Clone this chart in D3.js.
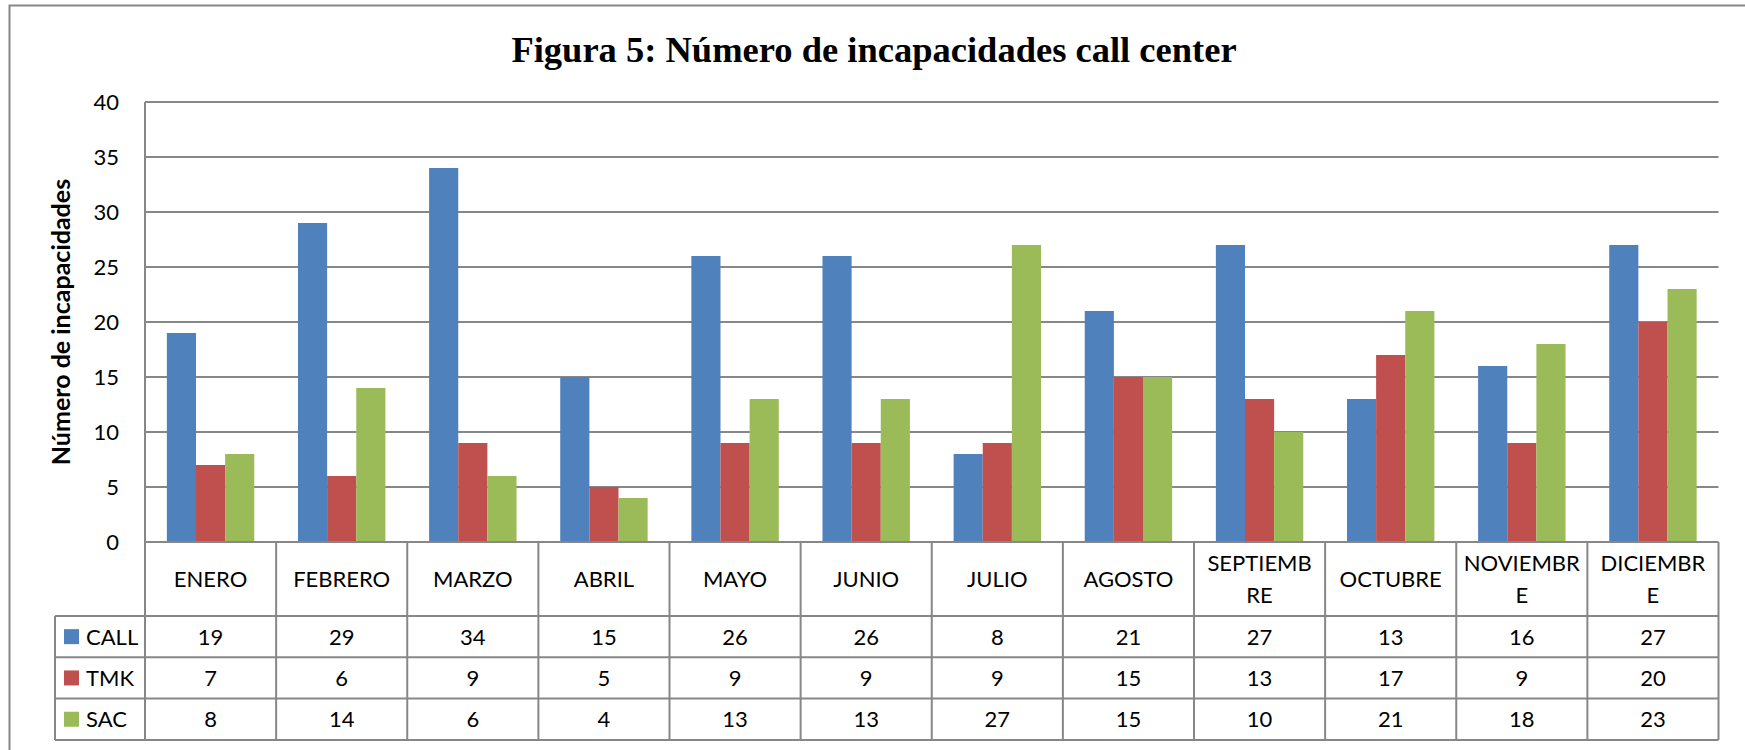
<!DOCTYPE html>
<html>
<head>
<meta charset="utf-8">
<script src="https://cdn.jsdelivr.net/npm/d3@7"></script>
<style>
  html, body { margin: 0; padding: 0; background: #fff; }
  #chart { width: 1745px; height: 750px; }
</style>
</head>
<body>
<div id="chart"></div>
<script>
// data
const months = ["ENERO", "FEBRERO", "MARZO", "ABRIL", "MAYO", "JUNIO", "JULIO",
  "AGOSTO", "SEPTIEMBRE", "OCTUBRE", "NOVIEMBRE", "DICIEMBRE"];
const monthLabels = [["ENERO"], ["FEBRERO"], ["MARZO"], ["ABRIL"], ["MAYO"], ["JUNIO"],
  ["JULIO"], ["AGOSTO"], ["SEPTIEMB", "RE"], ["OCTUBRE"], ["NOVIEMBR", "E"], ["DICIEMBR", "E"]];
const seriesNames = ["CALL", "TMK", "SAC"];
const callValues = [19, 29, 34, 15, 26, 26, 8, 21, 27, 13, 16, 27];
const tmkValues = [7, 6, 9, 5, 9, 9, 9, 15, 13, 17, 9, 20];
const sacValues = [8, 14, 6, 4, 13, 13, 27, 15, 10, 21, 18, 23];
const yTicks = [0, 5, 10, 15, 20, 25, 30, 35, 40];
const seriesColors = ["#4F81BD", "#C0504D", "#9BBB59"];

const title = "Figura 5: Número de incapacidades call center";
const yTitle = "Número de incapacidades";

const settings = {
  width: 1745,
  height: 750,
  margin: { top: 102, right: 26.5, left: 145 },
  plotBottom: 542,
  headerHeight: 74,
  rowHeight: 41.3,
  legendLeft: 55,
  lineColor: "#878787",
  font: "Lato, 'Open Sans', sans-serif",
  fontSize: "22px"
};

const values = [callValues, tmkValues, sacValues];
const rows = seriesNames.map((name, s) => ({ name, color: seriesColors[s], values: values[s] }));

const svg = d3.select("#chart")
  .append("svg")
  .attr("width", settings.width)
  .attr("height", settings.height);

// outer chart border (right/bottom fall outside the picture)
svg.append("rect")
  .attr("x", 9.5)
  .attr("y", 5.5)
  .attr("width", settings.width + 20)
  .attr("height", settings.height + 20)
  .attr("fill", "none")
  .attr("stroke", settings.lineColor)
  .attr("stroke-width", 2);

const left = settings.margin.left;
const right = settings.width - settings.margin.right;

const xScale = d3.scaleBand()
  .domain(months)
  .range([left, right])
  .padding(0);

// gap width 150% -> bars take the middle 2/3 of each category
const bw = xScale.bandwidth();
const xInner = d3.scaleBand()
  .domain(seriesNames)
  .range([bw / 6, bw * 5 / 6])
  .padding(0);

const yScale = d3.scaleLinear()
  .domain([0, 40])
  .range([settings.plotBottom, settings.margin.top]);

// gridlines
svg.append("g")
  .selectAll("line")
  .data(yTicks.filter(t => t > 0))
  .enter()
  .append("line")
  .attr("x1", left)
  .attr("x2", right)
  .attr("y1", d => yScale(d))
  .attr("y2", d => yScale(d))
  .attr("stroke", settings.lineColor)
  .attr("stroke-width", 2);

// bars
svg.append("g")
  .selectAll("g")
  .data(rows)
  .enter()
  .append("g")
  .attr("fill", d => d.color)
  .selectAll("rect")
  .data(d => d.values.map((v, i) => ({ v, month: months[i], name: d.name })))
  .enter()
  .append("rect")
  .attr("x", d => xScale(d.month) + xInner(d.name))
  .attr("width", xInner.bandwidth())
  .attr("y", d => yScale(d.v))
  .attr("height", d => yScale(0) - yScale(d.v));

// Y axis labels
const yAxis = svg.append("g")
  .attr("transform", `translate(${left},0)`)
  .call(d3.axisLeft(yScale).tickValues(yTicks).tickSize(0).tickPadding(26));
yAxis.select(".domain").remove();
yAxis.selectAll("text")
  .attr("font-family", settings.font)
  .attr("font-size", settings.fontSize)
  .attr("fill", "#000");

// data table
const tableTop = settings.plotBottom;
const headerBottom = tableTop + settings.headerHeight;
const tableBottom = headerBottom + settings.rowHeight * rows.length;
const table = svg.append("g")
  .attr("stroke", settings.lineColor)
  .attr("stroke-width", 2);

// vertical lines: axis line plus every column boundary
table.append("line")
  .attr("x1", left).attr("x2", left)
  .attr("y1", settings.margin.top).attr("y2", tableBottom);
table.selectAll(".col")
  .data(months)
  .enter()
  .append("line")
  .attr("x1", d => xScale(d) + bw)
  .attr("x2", d => xScale(d) + bw)
  .attr("y1", tableTop)
  .attr("y2", tableBottom);
table.append("line")
  .attr("x1", settings.legendLeft).attr("x2", settings.legendLeft)
  .attr("y1", headerBottom).attr("y2", tableBottom);

// horizontal lines
table.append("line")
  .attr("x1", left).attr("x2", right)
  .attr("y1", tableTop).attr("y2", tableTop);
table.selectAll(".row")
  .data(d3.range(rows.length + 1))
  .enter()
  .append("line")
  .attr("x1", settings.legendLeft)
  .attr("x2", right)
  .attr("y1", d => headerBottom + d * settings.rowHeight)
  .attr("y2", d => headerBottom + d * settings.rowHeight);

// month header labels
const headerMid = tableTop + settings.headerHeight / 2;
const lineGap = 31.5;
svg.append("g")
  .selectAll("text")
  .data(months)
  .enter()
  .append("text")
  .attr("x", d => xScale(d) + bw / 2)
  .attr("text-anchor", "middle")
  .attr("font-family", settings.font)
  .attr("font-size", settings.fontSize)
  .attr("fill", "#000")
  .each(function (d, i) {
    const lines = monthLabels[i];
    const first = headerMid - (lines.length - 1) * lineGap / 2;
    lines.forEach((t, k) => {
      d3.select(this).append("tspan")
        .attr("x", xScale(d) + bw / 2)
        .attr("y", first + k * lineGap)
        .attr("dy", "0.36em")
        .text(t);
    });
  });

// table rows: legend key + values
const rowG = svg.append("g")
  .selectAll("g")
  .data(rows)
  .enter()
  .append("g")
  .attr("transform", (d, s) => `translate(0,${headerBottom + s * settings.rowHeight + settings.rowHeight / 2})`);

rowG.append("rect")
  .attr("x", 64)
  .attr("y", -7.5)
  .attr("width", 15)
  .attr("height", 15)
  .attr("fill", d => d.color);

rowG.append("text")
  .attr("x", 86)
  .attr("dy", "0.36em")
  .attr("font-family", settings.font)
  .attr("font-size", settings.fontSize)
  .attr("fill", "#000")
  .text(d => d.name);

rowG.selectAll(".val")
  .data(d => d.values)
  .enter()
  .append("text")
  .attr("x", (v, i) => xScale(months[i]) + bw / 2)
  .attr("dy", "0.36em")
  .attr("text-anchor", "middle")
  .attr("font-family", settings.font)
  .attr("font-size", settings.fontSize)
  .attr("fill", "#000")
  .text(v => v);

// title
svg.append("text")
  .attr("x", 874)
  .attr("y", 61.7)
  .attr("text-anchor", "middle")
  .attr("font-family", "'Liberation Serif', 'Times New Roman', serif")
  .attr("font-weight", "bold")
  .attr("font-size", "36.5px")
  .attr("fill", "#000")
  .text(title);

// Y-axis title
svg.append("text")
  .attr("transform", `translate(70,322) rotate(-90)`)
  .attr("text-anchor", "middle")
  .attr("font-family", settings.font)
  .attr("font-weight", "bold")
  .attr("font-size", "25px")
  .attr("fill", "#000")
  .text(yTitle);
</script>
</body>
</html>
